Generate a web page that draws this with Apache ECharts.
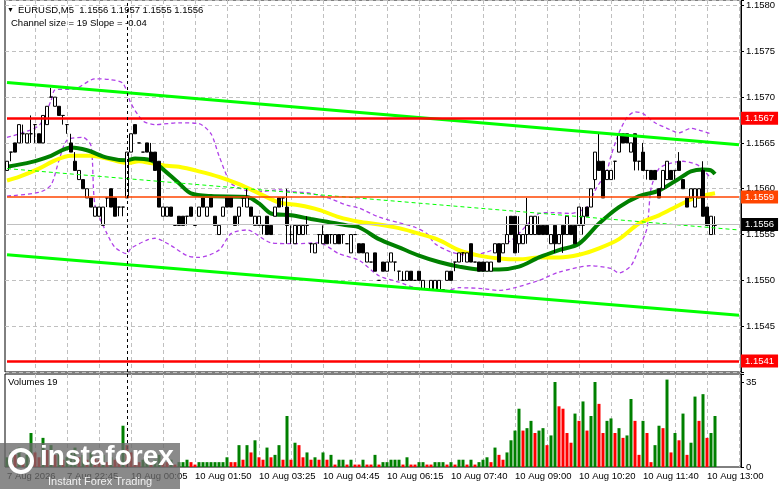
<!DOCTYPE html>
<html>
<head>
<meta charset="utf-8">
<title>EURUSD,M5</title>
<script src="https://cdn.jsdelivr.net/npm/echarts@6/dist/echarts.min.js"></script>
<style>
  html, body { margin: 0; padding: 0; background: #fff; }
  #main { width: 781px; height: 489px; }
</style>
</head>
<body>
<div id="main"></div>
<script type="text/javascript">
// prices are kept in pips above 1.1500 (62 -> 1.1562)
var base = 1.15;

var opens  = [62,64,65,65,66,65,66,67,66,65,67,70,69,69,68,67,65,63,61,61,59,59,57,57,56,59,60,59,58,58,
              59,64,67,65,64,65,64,64,63,57,57,58,56,57,57,57,58,56,57,59,57,59,57,55,57,59,59,57,57,59,
              58,58,56,56,56,57,56,57,59,59,58,55,54,55,55,56,54,53,55,54,55,55,54,55,55,54,53,55,54,54,
              52,52,53,50,52,51,52,52,51,50,50,51,50,51,49,49,49,49,49,49,50,51,52,52,53,52,54,52,52,52,
              51,51,53,54,53,54,57,57,54,54,55,55,55,56,56,56,54,56,54,56,55,56,56,56,56,58,58,61,63,63,
              61,61,63,64,66,66,64,66,63,64,62,62,62,60,60,61,62,62,63,61,59,59,58,59,62,58,55,56];
var highs  = [63,64,65,67,67,66,68,67,66,68,69,71,70,69,68,67,66,64,62,61,60,59,58,58,58,59,60,59,58,58,
              64,66,67,65,64,65,65,64,63,58,58,58,56,57,57,57,58,56,58,59,58,59,57,56,58,59,59,57,58,59,
              60,58,57,57,56,57,56,58,59,59,60,56,56,56,56,57,54,54,55,56,55,55,55,55,55,54,55,55,54,54,
              53,52,53,50,52,52,53,52,51,51,51,51,50,51,50,49,50,50,50,49,51,51,52,53,53,53,54,52,52,52,
              52,52,54,54,54,57,57,57,57,55,59,57,57,57,56,56,55,56,55,56,57,56,56,58,58,58,60,64,66,63,
              62,62,63,66,66,66,65,66,63,65,62,62,62,60,62,63,62,62,64,61,59,60,60,60,63,58,57,57];
var lows   = [62,63,64,65,65,65,65,65,65,65,67,70,69,68,67,66,64,62,61,60,59,58,57,57,56,58,58,57,57,57,
              59,64,66,65,64,64,63,62,58,57,57,57,56,56,56,56,57,56,57,58,57,58,56,55,57,58,58,56,56,58,
              58,57,56,56,55,55,55,57,58,58,54,54,54,55,55,55,53,53,54,54,54,54,54,54,54,54,53,55,53,53,
              52,52,51,50,51,51,52,51,50,50,50,50,50,50,49,49,49,49,49,49,50,50,51,52,52,52,52,52,51,51,
              51,51,53,52,53,54,55,53,53,54,54,55,55,55,55,55,54,53,54,53,55,55,54,56,55,57,58,60,62,59,
              61,61,61,64,65,65,64,62,62,62,61,61,61,59,60,61,61,61,62,60,58,59,58,59,57,56,55,55];
var closes = [63,64,64,67,66,66,66,67,65,68,69,70,70,68,68,67,64,62,62,60,60,58,58,58,58,59,58,57,58,58,
              64,66,66,65,64,64,63,62,58,58,58,57,56,56,56,57,57,56,58,58,58,58,56,56,58,58,58,56,58,59,
              59,57,57,57,56,55,55,58,58,59,56,55,56,56,56,56,54,54,55,55,54,55,55,54,55,54,55,55,53,53,
              53,52,51,50,51,52,53,52,51,50,51,50,50,50,50,49,50,50,50,49,51,50,52,53,53,53,52,52,51,51,
              52,52,54,52,54,55,55,53,55,55,56,57,57,55,55,55,55,54,55,55,57,55,54,58,57,57,60,64,62,59,
              62,62,63,66,65,65,65,63,63,62,62,61,61,59,62,63,61,62,62,60,58,60,60,60,57,56,57,56];

var volumes = [4,6,5,8,3,5,14,6,4,12,7,9,5,6,3,4,6,8,4,5,3,6,4,3,5,2,4,3,2,17,
               9,6,4,2,3,4,2,3,5,3,2,3,1,2,2,3,2,1,2,2,2,2,2,2,2,4,2,2,9,3,
               9,6,11,4,3,8,4,5,9,3,21,3,10,9,4,6,3,4,3,6,3,5,1,3,3,1,3,1,1,3,
               1,1,5,1,2,2,3,3,3,1,4,1,1,2,2,1,1,2,2,2,1,2,1,3,3,1,3,1,2,3,
               4,2,8,5,3,6,11,15,24,15,16,19,14,15,16,9,13,35,25,24,14,10,22,19,27,15,
               21,35,26,14,19,20,14,16,12,13,28,19,5,19,14,2,9,17,16,36,6,14,11,22,5,10,29,19,30,12,
               14,21];

// [bar, pips]
var maFast = [[0,62.4],[6,62.9],[11,63.6],[16,64.5],[20,64.2],[25,63.4],[30,63.1],[32,63.3],[36,63.1],[38,62.5],
              [43,60.6],[46,59.5],[51,59.2],[60,59.1],[63,58.4],[66,57.3],[71,57.1],[76,56.7],[80,56.4],[85,56.0],
              [88,55.8],[93,54.5],[98,53.6],[103,52.7],[108,52.0],[113,51.5],[118,51.2],[123,51.2],[128,51.5],[133,52.5],
              [138,53.3],[143,54.0],[148,56.2],[153,58.0],[158,59.2],[163,59.8],[168,61.1],[171,61.9],[174,62.1],[176,62.0],[177,61.6]];
var maSlow = [[0,60.9],[3,61.3],[8,62.2],[12,63.1],[16,63.6],[21,63.6],[25,63.3],[30,62.8],[33,63.0],[36,62.8],
              [40,62.5],[43,62.4],[48,61.9],[53,61.3],[58,60.5],[63,59.5],[68,58.5],[73,58.2],[78,57.7],[83,56.9],
              [88,56.4],[93,56.1],[98,55.7],[103,55.1],[108,54.4],[113,53.3],[118,52.7],[123,52.4],[128,52.3],[133,52.5],
              [138,52.5],[143,52.8],[148,53.5],[153,54.5],[158,56.2],[163,57.1],[168,58.2],[172,59.0],[177,59.5]];
var bandUp = [[0,65.6],[8,66.9],[11,69.6],[12,70.8],[17,70.9],[22,72.0],[26,71.9],[29,71.5],[31,69.3],[34,67.4],
              [37,67.0],[43,67.2],[48,67.1],[51,66.0],[53,63.6],[56,60.6],[60,59.8],[64,59.7],[68,59.9],[71,59.7],
              [76,59.5],[81,58.9],[85,58.2],[88,57.9],[93,56.9],[98,56.3],[102,55.8],[105,55.1],[107,54.0],[111,53.1],
              [116,52.7],[120,53.1],[124,53.8],[127,54.7],[131,56.5],[133,57.3],[136,57.4],[141,57.3],[145,58.0],[147,59.8],
              [150,62.0],[151,63.6],[153,66.1],[155,67.8],[157,68.4],[159,68.2],[162,67.2],[165,66.6],[168,66.1],[171,66.6],
              [173,66.4],[176,66.0]];
var bandDn = [[0,59.2],[8,59.6],[11,60.4],[13,63.1],[15,65.3],[19,65.6],[21,64.7],[22,58.2],[25,55.1],[27,53.6],
              [30,52.9],[31,53.5],[35,54.4],[37,54.6],[41,53.8],[45,52.7],[48,52.5],[53,53.3],[56,55.1],[60,55.5],
              [66,54.1],[72,54.0],[78,54.1],[83,52.9],[88,52.2],[93,50.5],[98,49.8],[102,49.2],[110,48.9],[113,49.2],
              [119,49.1],[123,48.9],[127,49.2],[133,50.0],[138,50.9],[146,51.6],[151,51.3],[153,50.8],[156,51.6],[158,53.5],
              [160,55.7],[161,60.0],[163,62.2],[166,62.8],[169,63.0],[173,62.5],[176,61.1]];

// channel: [start pips, end pips] over the whole chart
var chanUpper = [71.6, 64.8];
var chanMiddle = [62.2, 55.5];
var chanLower = [52.8, 46.2];

// horizontal levels (price, tag)
var levelHigh = [1.15677, '1.1567'];
var levelLow = [1.15412, '1.1541'];
var levelMid = [1.15591, '1.1559'];
var bidLine = [1.15561, '1.1556'];

var daySplitBar = 30;
var shiftBars = 6;
var labelBars = [0, 15, 31, 47, 63, 79, 95, 111, 127, 143, 159, 175];
var labelTexts = ['7 Aug 2026', '7 Aug 22:45', '10 Aug 00:05', '10 Aug 01:50', '10 Aug 03:25', '10 Aug 04:45',
                  '10 Aug 06:15', '10 Aug 07:40', '10 Aug 09:00', '10 Aug 10:20', '10 Aug 11:40', '10 Aug 13:00'];

function pr(p) { return Math.round((base + p / 10000) * 1e6) / 1e6; }
function toLine(arr) { return arr.map(function (d) { return [d[0], pr(d[1])]; }); }

var nCat = opens.length + shiftBars;
var cats = [];
for (var i = 0; i < nCat; i++) cats.push(String(i));

var candles = opens.map(function (o, i) {
    return [pr(o), pr(closes[i]), pr(lows[i]), pr(highs[i])];
});

// MT4 volumes: green when volume rises, red when it falls
var volBars = [];
var up = true;
for (var i = 0; i < volumes.length; i++) {
    if (i > 0 && volumes[i] > volumes[i - 1]) up = true;
    else if (i > 0 && volumes[i] < volumes[i - 1]) up = false;
    volBars.push({ value: volumes[i], itemStyle: { color: up ? '#008000' : '#ff0000' } });
}

var font = '"Liberation Sans", Arial, sans-serif';
var gridLine = { show: true, lineStyle: { color: '#c0c0c0', type: [4, 3], width: 1 } };
var vSplit = {
    show: true, alignWithLabel: true,
    interval: function (idx) { return idx % 8 === 7; },
    lineStyle: { color: '#c0c0c0', type: [4, 3], width: 1 }
};

function tag(text, bg) {
    return { show: true, position: 'end', distance: 2, formatter: text, color: '#fff',
             backgroundColor: bg, padding: [2, 4, 1, 4], fontSize: 9.5, fontFamily: font };
}
// horizontal object line across the chart, with its price tag on the right
function hLine(level, color, width, bg) {
    return [{ coord: [0, level[0]], lineStyle: { color: color, width: width, type: 'solid' }, label: tag(level[1], bg) },
            { coord: [nCat - 1, level[0]] }];
}
function slopeLine(pair, width, type) {
    return [{ coord: [0, pr(pair[0])], lineStyle: { color: '#00ff00', width: width, type: type } },
            { coord: [nCat - 1, pr(pair[1])] }];
}

var myChart = echarts.init(document.getElementById('main'));

myChart.setOption({
    animation: false,
    backgroundColor: '#fff',
    textStyle: { fontFamily: font },
    grid: [
        { left: 5, right: 40, top: 0, height: 372, show: true, borderColor: '#000', borderWidth: 1, outerBoundsMode: 'none' },
        { left: 5, right: 40, top: 374, height: 93, show: true, borderColor: '#000', borderWidth: 1, outerBoundsMode: 'none' }
    ],
    xAxis: [
        { type: 'category', gridIndex: 0, data: cats, boundaryGap: true,
          axisLine: { show: false }, axisTick: { show: false }, axisLabel: { show: false }, splitLine: vSplit },
        { type: 'category', gridIndex: 1, data: cats, boundaryGap: true,
          axisLine: { show: false }, axisTick: { show: false }, splitLine: vSplit,
          axisLabel: {
              show: true, margin: 4, align: 'left', color: '#000', fontSize: 9.5, fontFamily: font,
              interval: function (idx) { return labelBars.indexOf(idx) >= 0; },
              formatter: function (v, idx) {
                  var k = labelBars.indexOf(Number(v));
                  return k >= 0 ? labelTexts[k] : '';
              }
          } }
    ],
    yAxis: [
        { type: 'value', gridIndex: 0, position: 'right', min: 1.1540, max: 1.15806, interval: 0.0005, scale: true,
          axisLine: { show: true, lineStyle: { color: '#000' } },
          axisTick: { show: true, length: 3, lineStyle: { color: '#000' } },
          splitLine: gridLine,
          axisLabel: { color: '#000', fontSize: 9.5, fontFamily: font, margin: 5,
              formatter: function (v) {
                  var k = v / 0.0005;
                  return (Math.abs(k - Math.round(k)) < 1e-3 && v > 1.15402) ? v.toFixed(4) : '';
              } } },
        { type: 'value', gridIndex: 1, position: 'right', min: 0, max: 38.3, interval: 35,
          axisLine: { show: true, lineStyle: { color: '#000' } },
          axisTick: { show: true, length: 3, lineStyle: { color: '#000' } },
          splitLine: { show: false },
          axisLabel: { color: '#000', fontSize: 9.5, fontFamily: font, margin: 5,
              formatter: function (v) { return (v === 0 || v === 35) ? String(v) : ''; } } }
    ],
    series: [
        { name: 'BB upper', type: 'line', xAxisIndex: 0, yAxisIndex: 0, data: toLine(bandUp),
          symbol: 'none', smooth: 0.25, z: 2, lineStyle: { color: '#b040e8', width: 1.3, type: [4, 3] } },
        { name: 'BB lower', type: 'line', xAxisIndex: 0, yAxisIndex: 0, data: toLine(bandDn),
          symbol: 'none', smooth: 0.25, z: 2, lineStyle: { color: '#b040e8', width: 1.3, type: [4, 3] } },
        { name: 'MA slow', type: 'line', xAxisIndex: 0, yAxisIndex: 0, data: toLine(maSlow),
          symbol: 'none', smooth: 0.3, z: 3, lineStyle: { color: '#ffff00', width: 4 } },
        { name: 'MA fast', type: 'line', xAxisIndex: 0, yAxisIndex: 0, data: toLine(maFast),
          symbol: 'none', smooth: 0.3, z: 3, lineStyle: { color: '#008000', width: 4 } },
        { name: 'EURUSD', type: 'candlestick', xAxisIndex: 0, yAxisIndex: 0, data: candles, z: 4,
          barWidth: 3,
          itemStyle: { color: '#ffffff', color0: '#000000', borderColor: '#000000', borderColor0: '#000000', borderWidth: 1 } },
        { name: 'Objects', type: 'line', xAxisIndex: 0, yAxisIndex: 0, data: [], z: 5,
          markLine: {
              silent: true, symbol: ['none', 'none'], label: { show: false },
              data: [
                  slopeLine(chanUpper, 3, 'solid'),
                  slopeLine(chanLower, 3, 'solid'),
                  slopeLine(chanMiddle, 1, [4, 3]),
                  hLine(bidLine, '#c0c0c0', 1, '#000000'),
                  hLine(levelMid, '#ff4500', 1.5, '#ff4500'),
                  hLine(levelHigh, '#ff0000', 2.5, '#ff0000'),
                  hLine(levelLow, '#ff0000', 2.5, '#ff0000'),
                  { xAxis: daySplitBar, lineStyle: { color: '#000', width: 1, type: [3, 3] } }
              ]
          } },
        { name: 'Volumes', type: 'bar', xAxisIndex: 1, yAxisIndex: 1, data: volBars, barWidth: 3, z: 3,
          markLine: {
              silent: true, symbol: ['none', 'none'], label: { show: false },
              data: [{ xAxis: daySplitBar, lineStyle: { color: '#000', width: 1, type: [3, 3] } }]
          } }
    ],
    graphic: [
        { type: 'text', left: 7, top: 7, z: 100, style: { text: '▼', fill: '#000', font: '7px ' + font } },
        { type: 'text', left: 18, top: 5, z: 100,
          style: { text: 'EURUSD,M5  1.1556 1.1957 1.1555 1.1556', fill: '#000', font: '9.5px ' + font } },
        { type: 'text', left: 11, top: 18, z: 100,
          style: { text: 'Channel size = 19 Slope = -0.04', fill: '#000', font: '9.5px ' + font } },
        { type: 'text', left: 8, top: 377, z: 100,
          style: { text: 'Volumes 19', fill: '#000', font: '9.5px ' + font } },
        { type: 'rect', z: 200, shape: { x: 0, y: 443, width: 180, height: 46 }, style: { fill: 'rgba(105,105,105,0.78)' } },
        { type: 'circle', z: 201, shape: { cx: 21, cy: 461, r: 11 }, style: { fill: 'none', stroke: '#ffffff', lineWidth: 4 } },
        { type: 'circle', z: 201, shape: { cx: 21, cy: 461, r: 4 }, style: { fill: '#ffffff' } },
        { type: 'text', z: 201, x: 40, y: 443, style: { text: 'instaforex', fill: '#ffffff', font: 'bold 28px ' + font } },
        { type: 'text', z: 201, x: 48, y: 476, style: { text: 'Instant Forex Trading', fill: '#f0f0f0', font: '11px ' + font } }
    ]
});
</script>
</body>
</html>
